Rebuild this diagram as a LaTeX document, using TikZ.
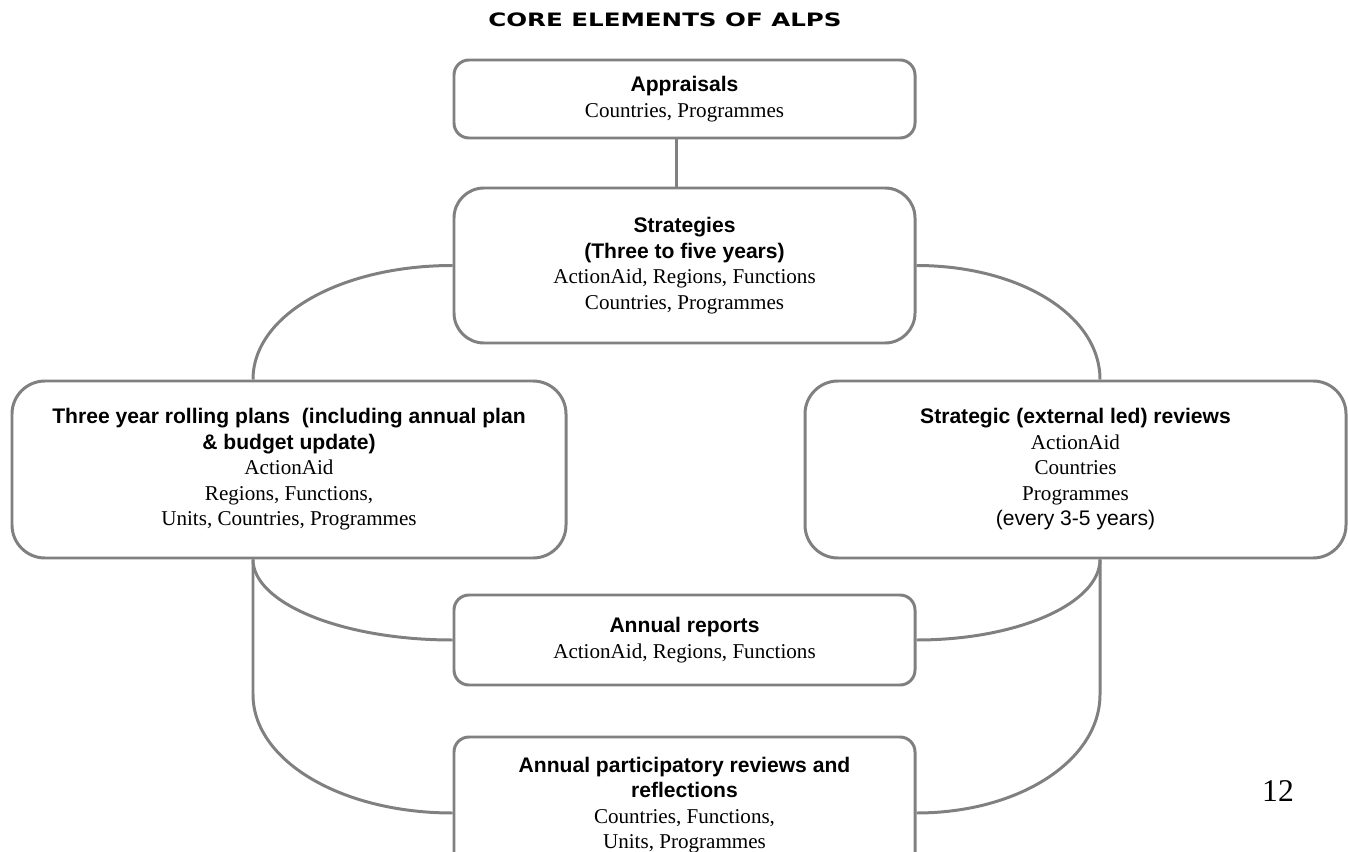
\documentclass[tikz,border=0pt]{standalone}
\usepackage{fontspec}
\setmainfont{Liberation Serif}
\newfontfamily\headfont{Liberation Sans}
\newfontfamily\titlefont[FakeStretch=1.33]{DejaVu Sans}
\usepackage{tikz}
\usetikzlibrary{calc}
\newcommand{\boxhead}[1]{{\headfont\bfseries #1}}

\begin{document}
\begin{tikzpicture} [
  elem/.style = {draw = linegray, line width = 1.7pt, rounded corners = 0.3cm,
    align = center, inner sep = 0pt, font = \fontsize{12}{14.5}\selectfont},
  big/.style = {elem, rounded corners = 0.66cm},
  link/.style = {draw = linegray, line width = 1.7pt}
]
\definecolor{linegray}{RGB}{128,128,128}
\useasboundingbox (0,0) rectangle (26.96,-17.04);
\clip (0,0) rectangle (26.96,-17.04);
\node(title) [anchor = base] at (13.3,-0.54) {\titlefont\bfseries\fontsize{10.5}{12}\selectfont CORE ELEMENTS OF ALPS};
\node(app) [elem, minimum width = 9.22cm, minimum height = 1.56cm] at (13.69,-1.98)
  {\boxhead{Appraisals}\\ Countries, Programmes};
\node(str) [elem, rounded corners = 0.6cm, minimum width = 9.22cm, minimum height = 3.10cm] at (13.69,-5.31)
  {\boxhead{Strategies}\\ \boxhead{(Three to five years)}\\ ActionAid, Regions, Functions\\ Countries, Programmes};
\node(tyr) [big, minimum width = 11.08cm, minimum height = 3.54cm] at (5.78,-9.39)
  {\boxhead{Three year rolling plans\ \ (including annual plan}\\ \boxhead{\& budget update)}\\ ActionAid\\ Regions, Functions,\\ Units, Countries, Programmes};
\node(ser) [big, minimum width = 10.82cm, minimum height = 3.54cm] at (21.51,-9.39)
  {\boxhead{Strategic (external led) reviews}\\ ActionAid\\ Countries\\ Programmes\\ {\headfont (every 3-5 years)}};
\node(anr) [elem, minimum width = 9.22cm, minimum height = 1.80cm] at (13.69,-12.8)
  {\boxhead{Annual reports}\\ ActionAid, Regions, Functions};
\node(apr) [elem, minimum width = 9.22cm, minimum height = 2.72cm] at (13.69,-16.1)
  {\boxhead{Annual participatory reviews and}\\ \boxhead{reflections}\\ Countries, Functions,\\ Units, Programmes};
\node(pg) [anchor = base, font = \fontsize{18}{20}\selectfont] at (25.56,-16.02) {12};
% top links
\draw [link] ([xshift = -0.16cm]app.south) -- ([xshift = -0.16cm]str.north);
\draw [link] (str.west) .. controls +(-2.22,0) and +(0,1.3) .. ([xshift = -0.72cm]tyr.north);
\draw [link] (str.east) .. controls +(2.04,0) and +(0,1.3) .. ([xshift = 0.49cm]ser.north);
% bottom links, left
\draw [link] ([xshift = -0.72cm]tyr.south) .. controls +(0,-0.87) and +(-2.22,0) .. (anr.west);
\draw [link] ([xshift = -0.72cm]tyr.south) -- ++(0,-2.7) .. controls +(0,-1.32) and +(-2.23,0) .. ([yshift = -0.16cm]apr.west);
% bottom links, right
\draw [link] ([xshift = 0.49cm]ser.south) .. controls +(0,-0.87) and +(2.04,0) .. (anr.east);
\draw [link] ([xshift = 0.49cm]ser.south) -- ++(0,-2.7) .. controls +(0,-1.32) and +(2.05,0) .. ([yshift = -0.16cm]apr.east);
\end{tikzpicture}
\end{document}
